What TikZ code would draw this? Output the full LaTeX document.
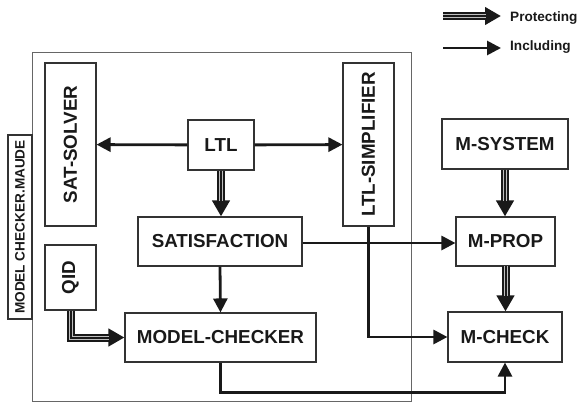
\documentclass[tikz,border=0pt]{standalone}
\usepackage{fontspec}
\setmainfont{Liberation Sans}
\usepackage{graphicx}
\usetikzlibrary{arrows.meta,calc}
\tikzset{
  box/.style={draw=black!80, line width=1.1pt, inner sep=0pt, text=black!90,
    font=\bfseries\fontsize{18.8}{20}\selectfont},
  smalltext/.style={font=\bfseries\fontsize{13.6}{15}\selectfont, text=black!90, inner sep=0pt},
  incl/.style={line width=2.8pt, draw=black!90, -{Triangle[length=14pt,width=14pt]}},
  prot/.style={line width=8pt, draw=black!90, -{Triangle[length=16pt,width=17pt]},
    postaction={draw=white!75!black, line width=4pt, -, shorten >=15pt},
    postaction={draw=black!90, line width=2pt, -, shorten >=15pt}},
}
\begin{document}
\begin{tikzpicture}[x=1pt,y=-1pt]
\useasboundingbox (0,0) rectangle (579,402);
% outer module box
\node[box, draw=black!60, line width=0.8pt, minimum width=379pt, minimum height=349pt] (maude) at (221.5,226.5) {};
\node[box, minimum width=24pt, minimum height=184pt, font=\bfseries\fontsize{13.6}{15}\selectfont] (mcm) at (20,227) {\rotatebox{90}{MODEL CHECKER.MAUDE}};
\node[box, minimum width=51pt, minimum height=163pt] (sat) at (70.5,144.5) {\rotatebox{90}{SAT-SOLVER}};
\node[box, minimum width=66pt, minimum height=50pt] (ltl) at (221,145) {LTL};
\node[box, minimum width=51pt, minimum height=163pt] (simp) at (368.5,144.5) {\rotatebox{90}{LTL-SIMPLIFIER}};
\node[box, minimum width=126pt, minimum height=50pt] (msys) at (505,144) {M-SYSTEM};
\node[box, minimum width=164pt, minimum height=49pt] (satis) at (220,241.5) {SATISFACTION};
\node[box, minimum width=99pt, minimum height=49pt] (mprop) at (505.5,241.5) {M-PROP};
\node[box, minimum width=51pt, minimum height=65pt] (qid) at (70.5,277.5) {\rotatebox{90}{QID}};
\node[box, minimum width=191pt, minimum height=49pt] (mc) at (220.5,337.5) {MODEL-CHECKER};
\node[box, minimum width=114pt, minimum height=50pt] (mcheck) at (505,337) {M-CHECK};
% legend
\coordinate (lp1) at (443,16);
\coordinate (lp2) at (501,16);
\coordinate (li1) at (443,48);
\coordinate (li2) at (501,48);
\node[smalltext, anchor=base west] (lpt) at (510,21) {Protecting};
\node[smalltext, anchor=base west] (lit) at (510,50) {Including};
\draw[prot] (lp1) -- (lp2);
\draw[incl] (li1) -- (li2);
% connectors
\draw[incl] (ltl) -- (sat);
\draw[incl] (ltl) -- (simp);
\draw[prot] (ltl.south) -- (ltl.south |- satis.north);
\draw[incl] (satis.south) -- (mc.north);
\draw[prot] (qid.south) |- (mc.west);
\draw[incl] (satis.east |- 0,243) -- (mprop.west |- 0,243);
\draw[incl] (simp.south) |- (mcheck.west);
\draw[prot] (msys.south) -- (msys.south |- mprop.north);
\draw[prot] (mprop.south |- 0,266) -- (mprop.south |- mcheck.north);
\draw[incl] (mc.south) -- ++(0,30) -| (mcheck.south);
\end{tikzpicture}
\end{document}
